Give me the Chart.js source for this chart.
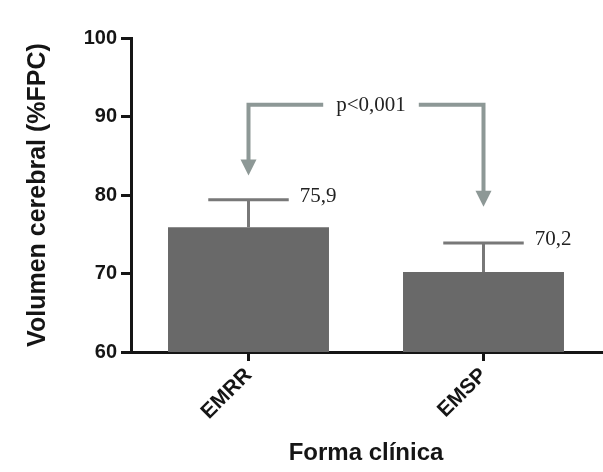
<!DOCTYPE html>
<html>
<head>
<meta charset="utf-8">
<script src="https://cdn.jsdelivr.net/npm/chart.js@4/dist/chart.umd.min.js"></script>
<style>
  html, body { margin: 0; padding: 0; background: #fff; }
  canvas { display: block; }
</style>
</head>
<body>
<canvas id="c" width="603" height="472"></canvas>
<script>
// Brain volume (%FPC) by clinical form: mean and standard deviation
const categories = ['EMRR', 'EMSP'];
const meanVolume = [75.9, 70.2];
const sdVolume = [3.5, 3.7];
const meanLabels = ['75,9', '70,2'];
const yTickValues = [60, 70, 80, 90, 100];
const pValueText = 'p<0,001';

const SANS = '"Liberation Sans", Arial, Helvetica, sans-serif';
const SERIF = '"Liberation Serif", "Times New Roman", serif';
const INK = '#151515';

// SD whiskers with a cap, plus the mean printed beside each cap
const errorBars = {
  id: 'errorBars',
  afterDatasetsDraw(chart) {
    const { ctx, scales: { y } } = chart;
    const meta = chart.getDatasetMeta(0);
    ctx.save();
    meta.data.forEach((bar, i) => {
      const top = y.getPixelForValue(meanVolume[i] + sdVolume[i]);
      const half = bar.width / 4;
      ctx.strokeStyle = '#787878';
      ctx.lineWidth = 3;
      ctx.beginPath();
      ctx.moveTo(bar.x, bar.y);
      ctx.lineTo(bar.x, top);
      ctx.moveTo(bar.x - half, top);
      ctx.lineTo(bar.x + half, top);
      ctx.stroke();
      ctx.fillStyle = '#222';
      ctx.font = '21px ' + SERIF;
      ctx.textAlign = 'left';
      ctx.textBaseline = 'middle';
      ctx.fillText(meanLabels[i], bar.x + half + 11, top - 3);
    });
    ctx.restore();
  }
};

// Bracket with arrows pointing at both groups and the p-value in the middle
const significance = {
  id: 'significance',
  afterDraw(chart, args, opts) {
    const { ctx, scales: { x, y } } = chart;
    const x0 = x.getPixelForValue(0);
    const x1 = x.getPixelForValue(1);
    const yl = y.getPixelForValue(opts.level);
    const tips = opts.tips.map(v => y.getPixelForValue(v));
    const head = 16;
    ctx.save();
    ctx.font = '21px ' + SERIF;
    const tw = ctx.measureText(pValueText).width;
    const cx = (x0 + x1) / 2 + 5;
    const gap = 13;
    ctx.strokeStyle = '#8d9896';
    ctx.fillStyle = '#8d9896';
    ctx.lineWidth = 4;
    ctx.lineJoin = 'miter';
    ctx.beginPath();
    ctx.moveTo(cx - tw / 2 - gap, yl);
    ctx.lineTo(x0, yl);
    ctx.lineTo(x0, tips[0] - head + 2);
    ctx.moveTo(cx + tw / 2 + gap, yl);
    ctx.lineTo(x1, yl);
    ctx.lineTo(x1, tips[1] - head + 2);
    ctx.stroke();
    [[x0, tips[0]], [x1, tips[1]]].forEach(([px, py]) => {
      ctx.beginPath();
      ctx.moveTo(px - 8, py - head);
      ctx.lineTo(px + 8, py - head);
      ctx.lineTo(px, py);
      ctx.closePath();
      ctx.fill();
    });
    ctx.fillStyle = '#222';
    ctx.textAlign = 'center';
    ctx.textBaseline = 'middle';
    ctx.fillText(pValueText, cx, yl + 1);
    ctx.restore();
  }
};

new Chart(document.getElementById('c'), {
  type: 'bar',
  data: {
    labels: categories,
    datasets: [{
      data: meanVolume,
      backgroundColor: '#696969',
      borderWidth: 0,
      barPercentage: 0.685,
      categoryPercentage: 1
    }]
  },
  options: {
    responsive: false,
    animation: false,
    layout: { padding: { top: 38, right: 2, left: 0, bottom: 0 } },
    plugins: {
      legend: { display: false },
      tooltip: { enabled: false },
      significance: { level: 91.5, tips: [82.5, 78.5] }
    },
    scales: {
      x: {
        grid: {
          display: true, offset: false, drawOnChartArea: false, drawTicks: true,
          tickLength: 9, lineWidth: 3, color: INK
        },
        border: { display: true, color: INK, width: 3 },
        ticks: {
          color: INK,
          font: { family: SANS, size: 21, weight: 'bold' },
          maxRotation: 45, minRotation: 45, padding: 2
        },
        title: {
          display: true, text: 'Forma clínica', color: INK,
          font: { family: SANS, size: 24, weight: 'bold' },
          padding: { top: 0, bottom: 4 }
        },
        afterFit(s) { s.height = 120; }
      },
      y: {
        min: 60,
        max: 100,
        afterBuildTicks(s) { s.ticks = yTickValues.map(v => ({ value: v })); },
        grid: {
          display: true, drawOnChartArea: false, drawTicks: true,
          tickLength: 10, lineWidth: 3, color: INK
        },
        border: { display: true, color: INK, width: 3 },
        ticks: {
          color: INK,
          font: { family: SANS, size: 20, weight: 'bold' },
          padding: 4
        },
        title: {
          display: true, text: 'Volumen cerebral (%FPC)', color: INK,
          font: { family: SANS, size: 25, weight: 'bold' },
          padding: { top: 23, bottom: 0 }
        },
        afterFit(s) { s.width = 131; }
      }
    }
  },
  plugins: [errorBars, significance]
});
</script>
</body>
</html>
